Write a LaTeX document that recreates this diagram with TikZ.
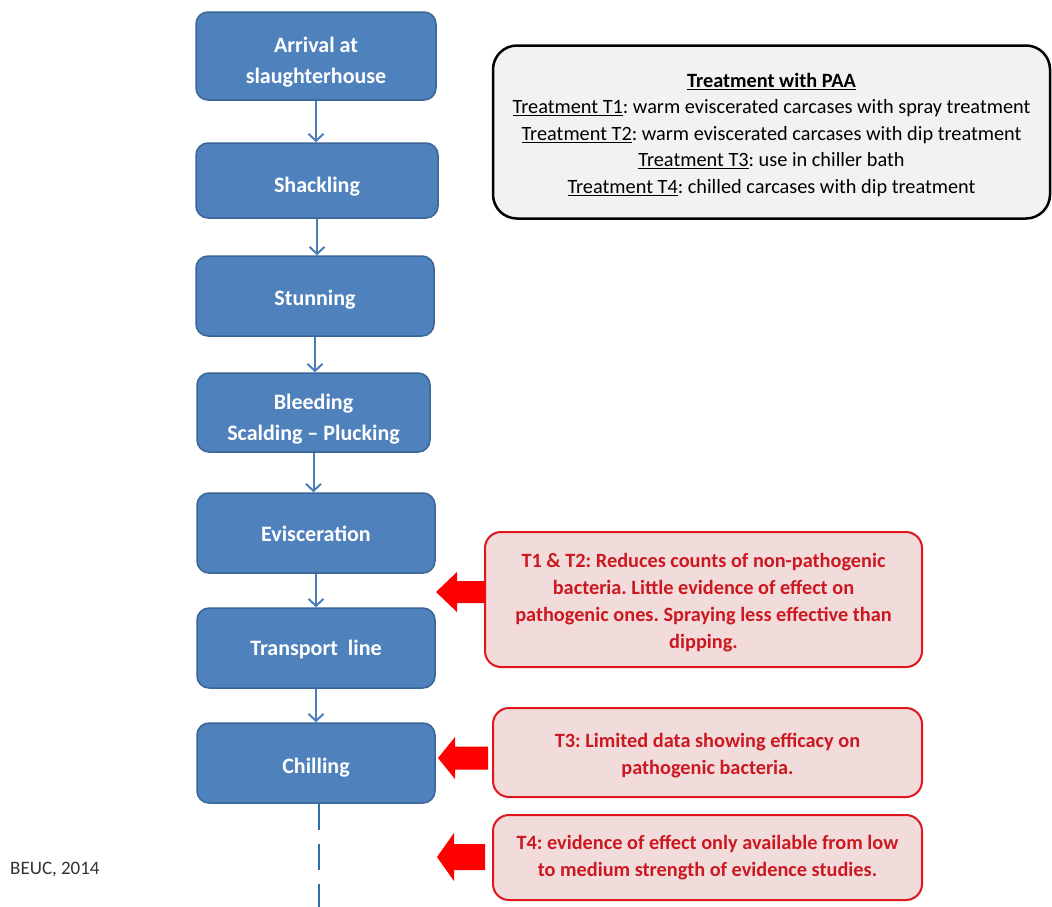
\documentclass[tikz,border=0pt]{standalone}
\usepackage{fontspec}
\setmainfont{Carlito}
\usetikzlibrary{arrows.meta,calc}
\definecolor{bluefill}{HTML}{4F81BD}
\definecolor{blueline}{HTML}{3A6596}
\definecolor{arrowblue}{HTML}{4A7EBB}
\definecolor{dashblue}{HTML}{2F6FAE}
\definecolor{pinkfill}{HTML}{F2DCDB}
\definecolor{redline}{HTML}{E0161E}
\definecolor{redtext}{HTML}{CC1820}
\definecolor{grayfill}{HTML}{F2F2F2}
\newcommand{\myredarrow}[6]{%
  \fill[red] (#1,#2) -- (#3,#2-#5) -- (#3,#2-#6) -- (#4,#2-#6) -- (#4,#2+#6) -- (#3,#2+#6) -- (#3,#2+#5) -- cycle;}
\newcommand{\lift}[1]{\rule{0pt}{#1pt}}
\tikzset{
  bluebox/.style={draw=blueline, line width=1.5pt, fill=bluefill, rounded corners=12pt,
    text=white, font=\fontsize{22}{31}\selectfont\bfseries, align=center, inner sep=0pt},
  redbox/.style={draw=redline, line width=2pt, fill=pinkfill, rounded corners=16pt,
    text=redtext, font=\fontsize{20.3}{26.9}\selectfont\bfseries, align=center, inner sep=0pt},
  infobox/.style={draw=black, line width=2.5pt, fill=grayfill, rounded corners=24pt,
    font=\fontsize{20.3}{26.5}\selectfont, align=center, inner sep=0pt},
  flowarrow/.style={draw=arrowblue, line width=2pt, -{Straight Barb[length=7pt,width=15pt,line width=2pt]}},
  dashline/.style={draw=dashblue, line width=2.5pt, dash pattern=on 26pt off 14pt}
}
\begin{document}
\frenchspacing
\begin{tikzpicture}[x=1pt,y=-1pt]
\useasboundingbox (0,0) rectangle (1052,906);
\fill[white] (0,0) rectangle (1052,906);

\node[bluebox, minimum width=240pt, minimum height=88pt] (arr) at (316,56) {\lift{28}Arrival at\\slaughterhouse};
\node[bluebox, minimum width=242pt, minimum height=75pt] (sha) at (317,180.5) {\lift{28}Shackling};
\node[bluebox, minimum width=238pt, minimum height=80pt] (stu) at (315,296) {\lift{22}Stunning};
\node[bluebox, minimum width=233pt, minimum height=79pt] (ble) at (313.5,412.5) {\lift{28}Bleeding\\Scalding -- Plucking};
\node[bluebox, minimum width=238pt, minimum height=80pt] (evi) at (316,533) {\lift{18}Evisceration};
\node[bluebox, minimum width=238pt, minimum height=80pt] (tra) at (316,648) {\lift{18}Transport\ \ line};
\node[bluebox, minimum width=238pt, minimum height=80pt] (chi) at (316,763) {\lift{24}Chilling};

\draw[flowarrow] (arr.south) -- (arr.south |- sha.north);
\draw[flowarrow] (sha.south) -- (sha.south |- stu.north);
\draw[flowarrow] (stu.south) -- (stu.south |- ble.north);
\draw[flowarrow] (ble.south) -- (ble.south |- evi.north);
\draw[flowarrow] (evi.south) -- (evi.south |- tra.north);
\draw[flowarrow] (tra.south) -- (tra.south |- chi.north);
\coordinate (end) at ($(chi.south)+(3,103)$);
\draw[dashline] ($(chi.south)+(3,0)$) -- (end);

\node[infobox, minimum width=557pt, minimum height=173pt] (info) at (771.5,132)
  {\lift{20}\textbf{\underline{Treatment with PAA}}\\
   \underline{Treatment T1}: warm eviscerated carcases with spray treatment\\
   \underline{Treatment T2}: warm eviscerated carcases with dip treatment\\
   \underline{Treatment T3}: use in chiller bath\\
   \underline{Treatment T4}: chilled\ carcases with dip treatment};

\node[redbox, minimum width=437pt, minimum height=135pt] (r1) at (703.5,599.5)
  {\lift{20}T1 \& T2: Reduces counts of non-pathogenic\\bacteria. Little evidence of effect on\\pathogenic ones. Spraying less effective than\\dipping.};
\node[redbox, minimum width=429pt, minimum height=89pt] (r2) at (707.5,752.5)
  {\lift{21}T3: Limited data showing efficacy on\\pathogenic bacteria.};
\node[redbox, minimum width=429pt, minimum height=85pt] (r3) at (707.5,857.5)
  {T4: evidence of effect only available from low\\to medium strength of evidence studies.};

\myredarrow{436}{592}{457}{485}{20}{11}
\myredarrow{438}{758}{455}{488}{21}{11.5}
\myredarrow{437}{857}{454}{485}{24}{13}

\node[anchor=west, text=black!80, font=\fontsize{19}{22}\selectfont, inner sep=0pt] (src) at (10,870) {BEUC, 2014};
\end{tikzpicture}
\end{document}
